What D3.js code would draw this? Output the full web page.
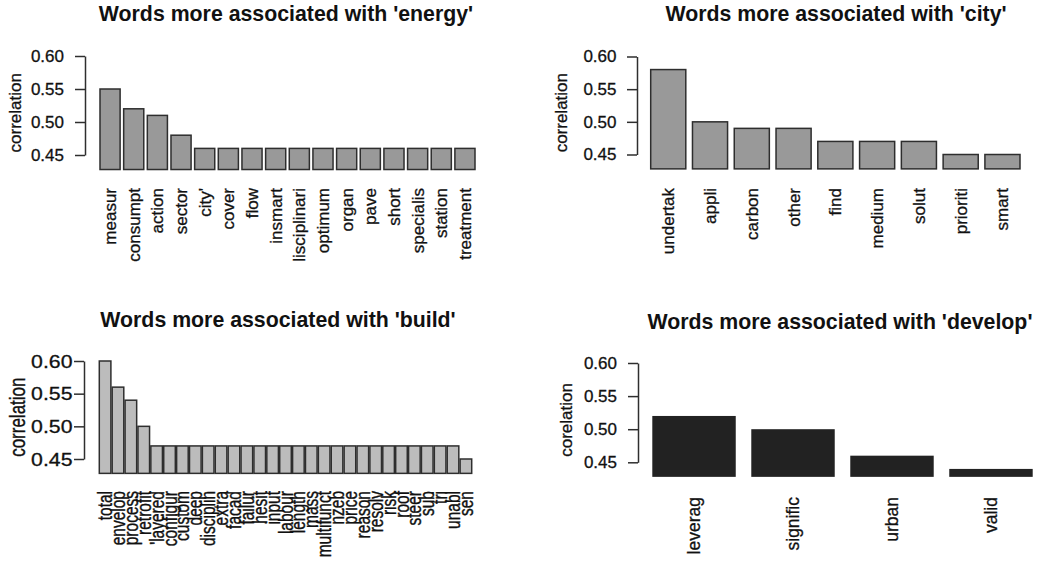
<!DOCTYPE html>
<html>
<head>
<meta charset="utf-8">
<script src="https://cdn.jsdelivr.net/npm/d3@7"></script>
<style>
  html, body { margin: 0; padding: 0; background: #fff; }
  svg { display: block; font-family: "Liberation Sans", Arial, Helvetica, sans-serif; }
</style>
</head>
<body>
<svg id="chart" width="1045" height="568"></svg>
<script>
// ---- data ----
const energyWords = ["measur","consumpt","action","sector","city'","cover","flow","insmart","lisciplinari","optimum","organ","pave","short","specialis","station","treatment"];
const energyValues = [0.55,0.52,0.51,0.48,0.46,0.46,0.46,0.46,0.46,0.46,0.46,0.46,0.46,0.46,0.46,0.46];

const cityWords = ["undertak","appli","carbon","other","find","medium","solut","prioriti","smart"];
const cityValues = [0.58,0.50,0.49,0.49,0.47,0.47,0.47,0.45,0.45];

const buildWords = ["total","envelop","process","retrofit","'layered","configur","custom","deep","disciplin","extra","facad","failur","hesit","input","labour","length","mass","multifunct","nzeb","price","reason","resolv","risk","roof","steer","sub","tri","unabl","sen"];
const buildValues = [0.60,0.56,0.54,0.50,0.47,0.47,0.47,0.47,0.47,0.47,0.47,0.47,0.47,0.47,0.47,0.47,0.47,0.47,0.47,0.47,0.47,0.47,0.47,0.47,0.47,0.47,0.47,0.47,0.45];

const developWords = ["leverag","signific","urban","valid"];
const developValues = [0.52,0.50,0.46,0.44];

const yTicks = [0.45, 0.50, 0.55, 0.60];
const yTickLabels = ["0.45", "0.50", "0.55", "0.60"];
const titles = ["Words more associated with 'energy'", "Words more associated with 'city'", "Words more associated with 'build'", "Words more associated with 'develop'"];
const yLabels = ["correlation", "correlation", "correlation", "corelation"];
const yFloor = 0.428; // lower limit of the plotting region (bars start here)

// ---- layout ----
const panels = [
  { words: energyWords, values: energyValues, title: titles[0], ylab: yLabels[0],
    axisX: 85, y45: 155, y60: 56, x0: 100, x1: 475, pad: 0.15,
    fill: "#999999", stroke: "#2e2e2e", sw: 1.5,
    titleX: 286, titleY: 21, ylabX: 15, labTop: 188, labSize: 17, labThick: 1, tickSize: 17, tickScale: 1, tickPad: 11, ylabThick: 1 },
  { words: cityWords, values: cityValues, title: titles[1], ylab: yLabels[1],
    axisX: 637, y45: 154.5, y60: 56.5, x0: 650.7, x1: 1020, pad: 0.16,
    fill: "#999999", stroke: "#2e2e2e", sw: 1.5,
    titleX: 836, titleY: 21, ylabX: 561.5, labTop: 188, labSize: 17, labThick: 1, tickSize: 17, tickScale: 1, tickPad: 10.5, ylabThick: 1 },
  { words: buildWords, values: buildValues, title: titles[2], ylab: yLabels[2],
    axisX: 84, y45: 459, y60: 361, x0: 99.3, x1: 471.7, pad: 0.1,
    fill: "#bcbcbc", stroke: "#2e2e2e", sw: 1.5,
    titleX: 278, titleY: 327, ylabX: 17.5, labTop: 491, labSize: 15.5, labThick: 1.3, tickSize: 19, tickScale: 1.12, tickPad: 1.5, ylabThick: 1.3 },
  { words: developWords, values: developValues, title: titles[3], ylab: yLabels[3],
    axisX: 638, y45: 462.3, y60: 363, x0: 652.3, x1: 1032.7, pad: 0.157,
    fill: "#222222", stroke: "none", sw: 0,
    titleX: 840, titleY: 328.5, ylabX: 566.5, labTop: 497, labSize: 17.5, labThick: 1, tickSize: 17, tickScale: 1, tickPad: 11, ylabThick: 1 }
];

const svg = d3.select("#chart");

function heavy(sel) {
  return sel.attr("fill", "#111").attr("stroke", "#111").attr("stroke-width", 0.3);
}

panels.forEach(p => {
  const g = svg.append("g");
  const y = d3.scaleLinear().domain([0.45, 0.60]).range([p.y45, p.y60]);
  const x = d3.scaleBand().domain(p.words).range([p.x0, p.x1]).paddingInner(p.pad).paddingOuter(0);
  const yBase = y(yFloor);

  // title
  g.append("text")
    .attr("x", p.titleX).attr("y", p.titleY)
    .attr("text-anchor", "middle")
    .style("font-size", "21.3px").style("font-weight", "bold").attr("fill", "#111")
    .text(p.title);

  // y axis
  const tx = -(10 + p.tickPad);
  const axis = d3.axisLeft(y).tickValues(yTicks).tickFormat((d, i) => yTickLabels[i]).tickSize(10).tickSizeOuter(0).tickPadding(p.tickPad);
  const ag = g.append("g").attr("transform", `translate(${p.axisX},0)`).call(axis);
  ag.select(".domain").attr("stroke", "#2e2e2e").attr("stroke-width", 1.5);
  ag.selectAll(".tick line").attr("stroke", "#2e2e2e").attr("stroke-width", 1.5);
  heavy(ag.selectAll(".tick text"))
    .style("font-size", p.tickSize + "px")
    .style("font-family", '"Liberation Sans", Arial, sans-serif')
    .attr("transform", p.tickScale === 1 ? null : `translate(${tx},0) scale(${p.tickScale},1) translate(${-tx},0)`);

  // y label
  const midY = (p.y60 + yBase) / 2;
  heavy(g.append("text"))
    .attr("transform", `translate(${p.ylabX},${midY}) rotate(-90) scale(1,${p.ylabThick})`)
    .attr("text-anchor", "middle").attr("dy", "0.35em")
    .style("font-size", "17px")
    .text(p.ylab);

  // bars
  g.selectAll("rect.bar").data(p.words.map((w, i) => ({ w, v: p.values[i] })))
    .enter().append("rect")
    .attr("class", "bar")
    .attr("x", d => x(d.w))
    .attr("width", x.bandwidth())
    .attr("y", d => y(d.v))
    .attr("height", d => yBase - y(d.v))
    .attr("fill", p.fill)
    .attr("stroke", p.stroke)
    .attr("stroke-width", p.sw);

  // x labels (vertical)
  heavy(g.selectAll("text.xl").data(p.words)
    .enter().append("text")
    .attr("class", "xl"))
    .attr("transform", d => `translate(${x(d) + x.bandwidth() / 2},${p.labTop}) rotate(-90) scale(1,${p.labThick})`)
    .attr("text-anchor", "end").attr("dy", "0.35em")
    .style("font-size", p.labSize + "px")
    .text(d => d);
});
</script>
</body>
</html>
